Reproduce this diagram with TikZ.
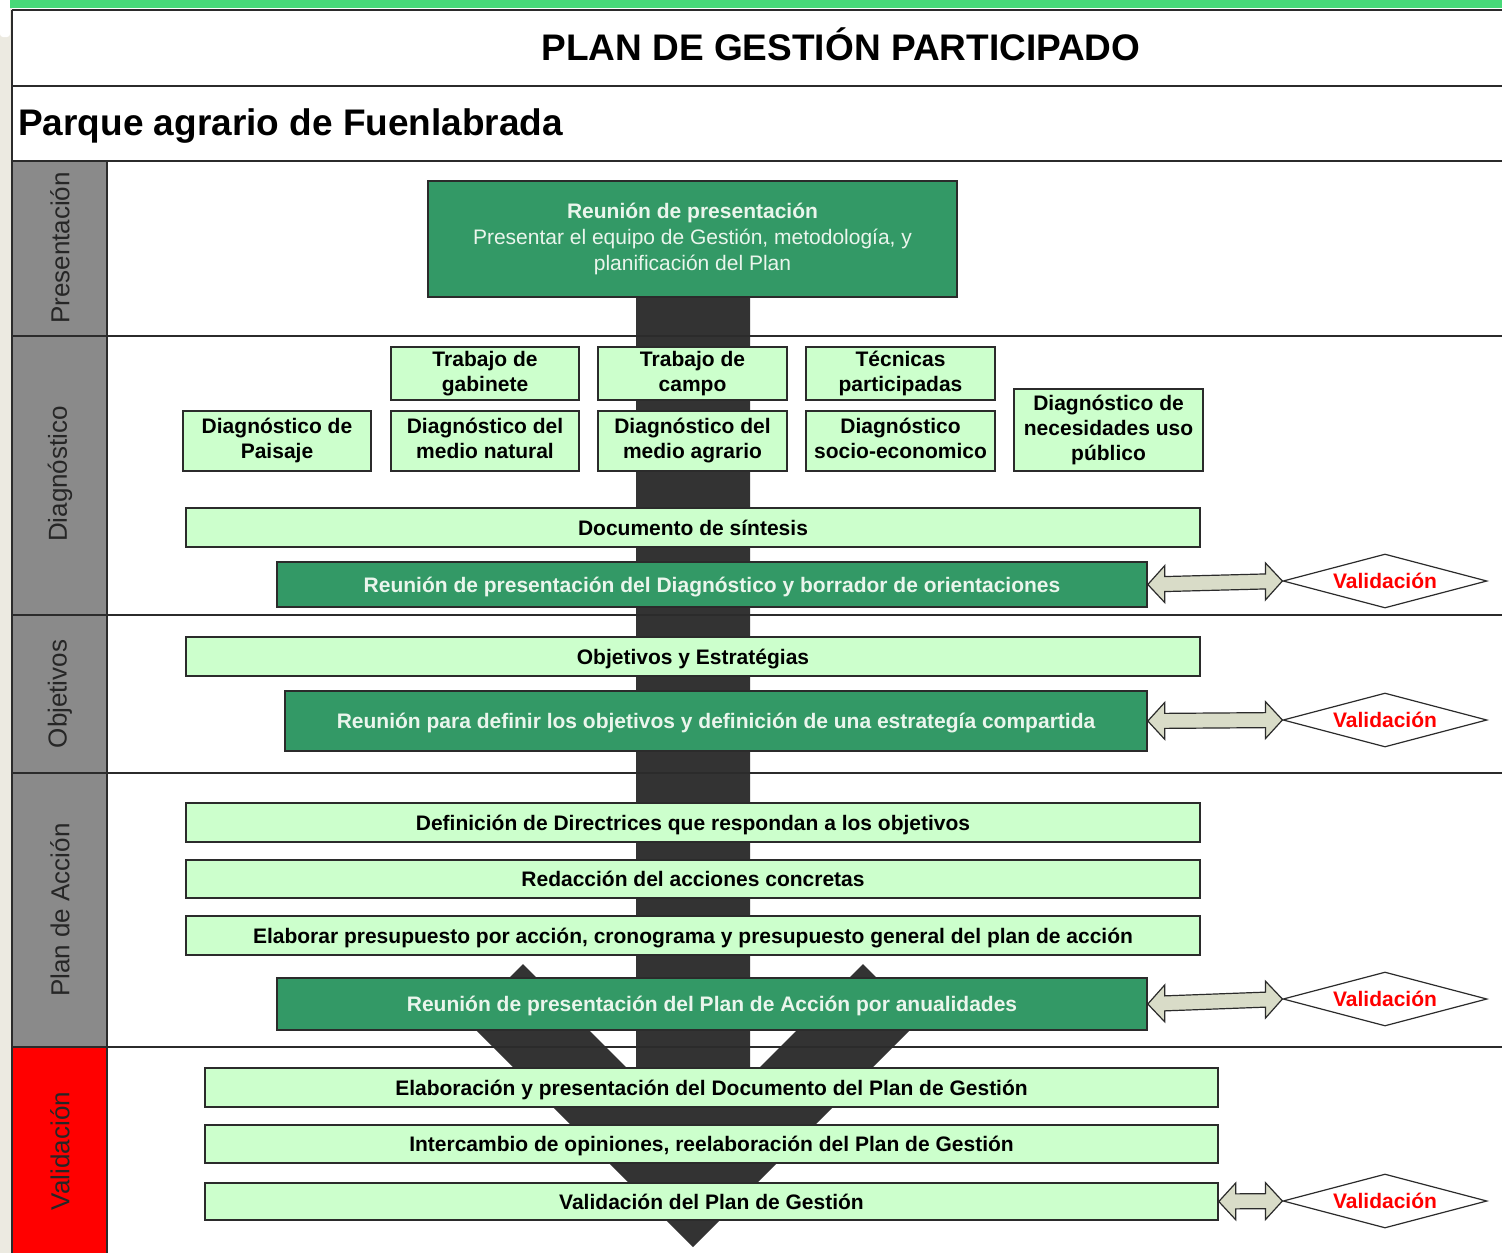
\documentclass[tikz,border=0pt]{standalone}
\usepackage{fontspec}
\setmainfont{Liberation Sans}
\usetikzlibrary{shapes.geometric,calc}

\definecolor{dgreen}{HTML}{339966}
\definecolor{lgreen}{HTML}{CCFFCC}
\definecolor{bandc}{HTML}{333333}
\definecolor{colgray}{HTML}{8A8A8A}
\definecolor{beige}{HTML}{ECEAE1}
\definecolor{topgreen}{HTML}{47D978}
\definecolor{arrfill}{HTML}{D9DCC8}
\definecolor{framec}{HTML}{2B2B2B}
\definecolor{paletext}{HTML}{EAF5EC}

\newcommand{\mystrut}{\rule[-5pt]{0pt}{25pt}}

\newcommand{\dblarrow}[2]{%
 \filldraw[dblarr] (#1)
  -- ($(#1)!17pt!(#2)+(0,-18.5)$) -- ($(#1)!17pt!(#2)+(0,-7.5)$)
  -- ($(#2)!17pt!(#1)+(0,-7.5)$) -- ($(#2)!17pt!(#1)+(0,-18.5)$)
  -- (#2)
  -- ($(#2)!17pt!(#1)+(0,18.5)$) -- ($(#2)!17pt!(#1)+(0,7.5)$)
  -- ($(#1)!17pt!(#2)+(0,7.5)$) -- ($(#1)!17pt!(#2)+(0,18.5)$)
  -- cycle;}

\begin{document}
\begin{tikzpicture}[x=1pt,y=-1pt,
 lbox/.style={draw=framec, line width=1.6pt, fill=lgreen, inner sep=0pt, align=center,
   font=\fontsize{21}{25}\selectfont\bfseries, text=black,
   execute at begin node=\mystrut, execute at end node=\mystrut},
 dbox/.style={draw=framec, line width=1.6pt, fill=dgreen, inner sep=0pt, align=center,
   font=\fontsize{21}{25}\selectfont\bfseries, text=paletext,
   execute at begin node=\mystrut, execute at end node=\mystrut},
 valid/.style={shape=diamond, draw=framec, line width=1.2pt, fill=white, aspect=3.78,
   minimum width=204pt, minimum height=54pt, inner sep=0pt,
   font=\fontsize{21}{25}\selectfont\bfseries, text=red},
 sect/.style={font=\fontsize{26}{30}\selectfont, text=black!85, rotate=90},
 sline/.style={draw=framec, line width=2pt},
 dblarr/.style={draw=framec, line width=1.2pt, fill=arrfill, line join=miter}]

\useasboundingbox (0,0) rectangle (1502,1253);

% background
\fill[white] (0,0) rectangle (1502,1253);
\fill[beige] (0,0) rectangle (12,1253);
\fill[white, rounded corners=3pt] (0,-5) rectangle (10,37);
\fill[topgreen] (10,0) rectangle (1502,8);

% left column
\fill[colgray] (12,161) rectangle (107,1047);
\fill[red] (12,1047) rectangle (107,1253);

% dark flow band
\fill[bandc] (636,290) -- (636,1077) -- (523,964) -- (466.5,1020.5) -- (693,1247)
  -- (919.5,1020.5) -- (863,964) -- (750,1077) -- (750,290) -- cycle;

% frame lines
\draw[sline] (12,10) -- (1502,10);
\draw[sline] (12,10) -- (12,1253);
\draw[sline] (12,86) -- (1502,86);
\draw[sline] (12,161) -- (1502,161);
\draw[sline] (12,336) -- (1502,336);
\draw[sline] (12,615) -- (1502,615);
\draw[sline] (12,773) -- (1502,773);
\draw[sline] (12,1047) -- (1502,1047);
\draw[sline] (107,161) -- (107,1253);

% titles
\node[font=\fontsize{37}{40}\selectfont\bfseries, anchor=base, inner sep=0pt] (title) at (841,60) {PLAN DE GESTIÓN PARTICIPADO};
\node[font=\fontsize{37}{40}\selectfont\bfseries, anchor=base west, inner sep=0pt] (sub) at (18,135) {Parque agrario de Fuenlabrada};

% section labels
\node[sect] (sPres) at (60,248) {Presentación};
\node[sect] (sDiag) at (60,474) {Diagnóstico};
\node[sect] (sObj) at (60,694) {Objetivos};
\node[sect] (sPlan) at (60,910) {Plan de Acción};
\node[sect] (sVal) at (60,1151) {Validación};

% presentacion
\node[dbox, minimum width=529pt, minimum height=116pt, font=\fontsize{21}{26}\selectfont] (pres) at (692.5,239)
 {\textbf{Reunión de presentación}\\Presentar el equipo de Gestión, metodología, y\\planificación del Plan};

% diagnostico
\node[lbox, minimum width=188pt, minimum height=53pt] (gab) at (485,373.5) {Trabajo de\\gabinete};
\node[lbox, minimum width=189pt, minimum height=53pt] (campo) at (692.5,373.5) {Trabajo de\\campo};
\node[lbox, minimum width=189pt, minimum height=53pt] (tec) at (900.5,373.5) {Técnicas\\participadas};
\node[lbox, minimum width=188pt, minimum height=60pt] (pai) at (277,441) {Diagnóstico de\\Paisaje};
\node[lbox, minimum width=188pt, minimum height=60pt] (nat) at (485,441) {Diagnóstico del\\medio natural};
\node[lbox, minimum width=189pt, minimum height=60pt] (agr) at (692.5,441) {Diagnóstico del\\medio agrario};
\node[lbox, minimum width=189pt, minimum height=60pt] (soc) at (900.5,441) {Diagnóstico\\socio-economico};
\node[lbox, minimum width=189pt, minimum height=82pt] (nec) at (1108.5,430) {Diagnóstico de\\necesidades uso\\público};

\node[lbox, minimum width=1014pt, minimum height=39pt] (sint) at (693,527.5) {Documento de síntesis};
\node[dbox, minimum width=870pt, minimum height=45pt] (reu1) at (712,584.5) {Reunión de presentación del Diagnóstico y borrador de orientaciones};

% objetivos
\node[lbox, minimum width=1014pt, minimum height=39pt] (obj) at (693,656.5) {Objetivos y Estratégias};
\node[dbox, minimum width=862pt, minimum height=60pt] (reu2) at (716,721) {Reunión para definir los objetivos y definición de una estrategía compartida};

% plan de accion
\node[lbox, minimum width=1014pt, minimum height=39pt] (dir) at (693,822.5) {Definición de Directrices que respondan a los objetivos};
\node[lbox, minimum width=1014pt, minimum height=38pt] (red) at (693,879) {Redacción del acciones concretas};
\node[lbox, minimum width=1014pt, minimum height=39pt] (presu) at (693,935.5) {Elaborar presupuesto por acción, cronograma y presupuesto general del plan de acción};
\node[dbox, minimum width=870pt, minimum height=52pt] (reu3) at (712,1004) {Reunión de presentación del Plan de Acción por anualidades};

% validacion
\node[lbox, minimum width=1013pt, minimum height=39pt] (v1) at (711.5,1087.5) {Elaboración y presentación del Documento del Plan de Gestión};
\node[lbox, minimum width=1013pt, minimum height=38pt] (v2) at (711.5,1144) {Intercambio de opiniones, reelaboración del Plan de Gestión};
\node[lbox, minimum width=1013pt, minimum height=37pt] (v3) at (711.5,1201.5) {Validación del Plan de Gestión};

% validation diamonds
\node[valid] (d1) at (1385,581) {Validación};
\node[valid] (d2) at (1385,720) {Validación};
\node[valid] (d3) at (1385,999) {Validación};
\node[valid] (d4) at (1385,1201) {Validación};

% double arrows
\dblarrow{reu1.east}{d1.west}
\dblarrow{reu2.east}{d2.west}
\dblarrow{reu3.east}{d3.west}
\dblarrow{v3.east}{d4.west}

\end{tikzpicture}
\end{document}
